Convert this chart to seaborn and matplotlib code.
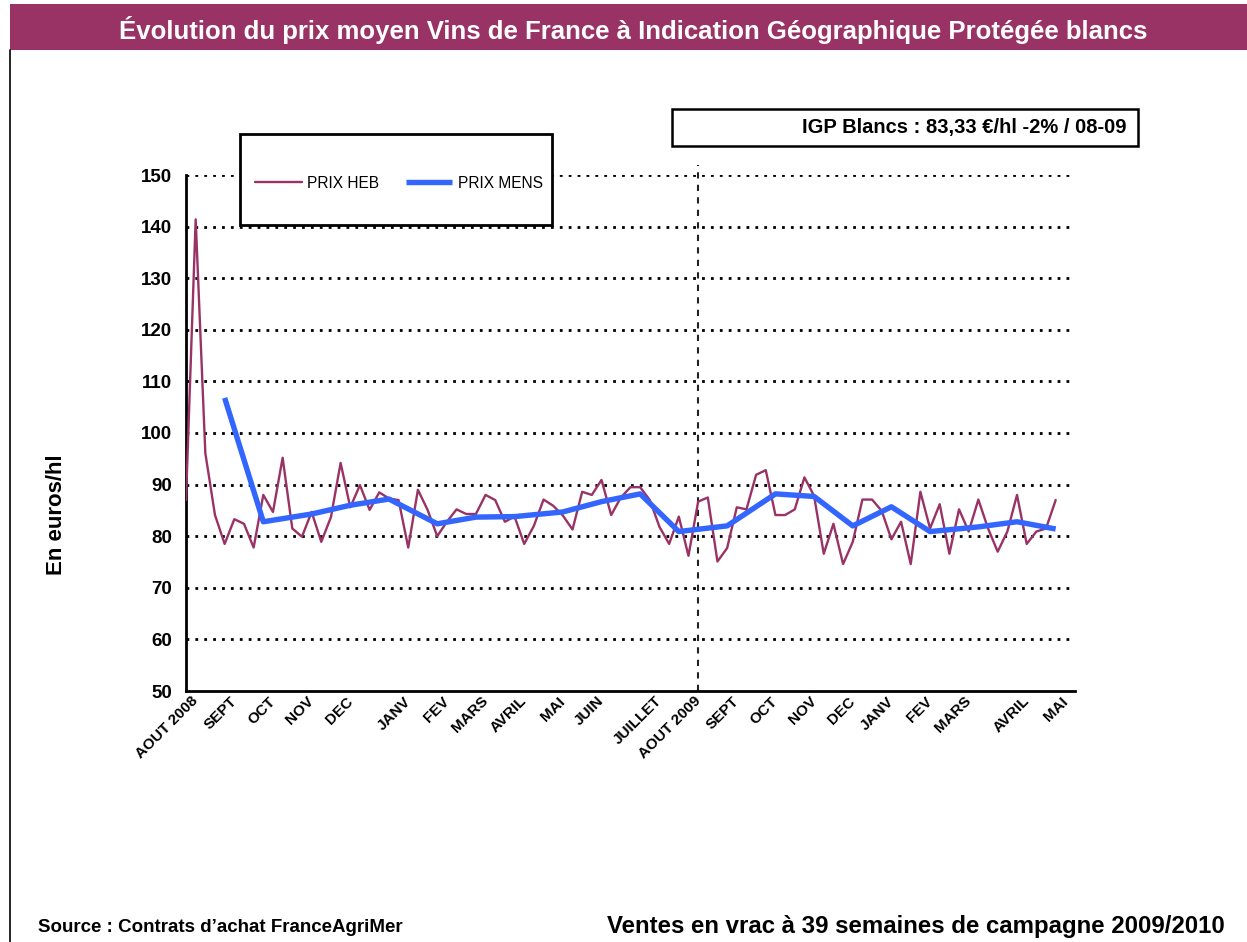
import numpy as np
import pandas as pd
import seaborn as sns
import matplotlib
matplotlib.use("Agg")
import matplotlib.pyplot as plt
import matplotlib.transforms as mtransforms
from matplotlib.patches import Rectangle
from matplotlib.lines import Line2D

# ---------------- data ----------------
week_idx = list(range(91))
prix_heb = [87.0, 141.4, 96.1, 84.1, 78.5, 83.3, 82.4, 77.8, 88.0, 84.7,
            95.2, 81.5, 79.9, 84.7, 78.9, 83.7, 94.2, 85.6, 89.9, 85.1,
            88.5, 87.3, 87.0, 77.8, 89.0, 85.1, 80.0, 82.8, 85.2, 84.3,
            84.3, 88.0, 87.0, 82.8, 83.8, 78.5, 82.0, 87.1, 85.9, 84.0,
            81.3, 88.6, 88.0, 90.9, 84.1, 87.5, 89.5, 89.5, 87.0, 81.8,
            78.5, 83.8, 76.2, 86.7, 87.5, 75.1, 77.7, 85.6, 85.2, 91.9,
            92.8, 84.1, 84.1, 85.2, 91.4, 87.8, 76.6, 82.4, 74.6, 78.9,
            87.1, 87.1, 84.9, 79.4, 82.8, 74.6, 88.6, 81.5, 86.2, 76.6,
            85.2, 80.9, 87.1, 81.5, 77.0, 80.9, 88.0, 78.5, 80.9, 81.5,
            87.0]
month_idx = [4, 8, 13, 17, 21, 26, 30, 34, 39, 43, 47, 51, 56, 61, 65, 69, 73, 77, 82, 86, 90]
prix_mens = [106.8, 82.8, 84.3, 86.0, 87.2, 82.4, 83.7, 83.8, 84.7, 86.7, 88.2,
             80.9, 82.0, 88.2, 87.7, 82.0, 85.7, 80.9, 81.8, 82.8, 81.4]
label_idx = [0, 4, 8, 12, 16, 22, 26, 30, 34, 38, 42, 48, 52, 56, 60, 64, 68, 72, 76, 80, 86, 90]
label_txt = ["AOUT 2008", "SEPT", "OCT", "NOV", "DEC", "JANV", "FEV", "MARS", "AVRIL",
             "MAI", "JUIN", "JUILLET", "AOUT 2009", "SEPT", "OCT", "NOV", "DEC", "JANV",
             "FEV", "MARS", "AVRIL", "MAI"]
y_ticks = [50, 60, 70, 80, 90, 100, 110, 120, 130, 140, 150]
n_categories = 93
campaign_split = 53

title = "Évolution du prix moyen Vins de France à Indication Géographique Protégée blancs"
box_text = "IGP Blancs : 83,33 €/hl -2% / 08-09"
source_text = "Source : Contrats d’achat FranceAgriMer"
note_text = "Ventes en vrac à 39 semaines de campagne 2009/2010"

PURPLE = "#993366"
BLUE = "#3366FF"

# ---------------- figure ----------------
sns.set_theme(style="white")
plt.rcParams['font.family'] = ['Liberation Sans', 'DejaVu Sans']
plt.rcParams['text.color'] = 'black'
plt.rcParams['axes.labelcolor'] = 'black'
plt.rcParams['xtick.color'] = 'black'
plt.rcParams['ytick.color'] = 'black'

W, H = 1247, 942
fig = plt.figure(figsize=(W / 100, H / 100), dpi=100)
fig.patch.set_facecolor("white")


def fx(x):
    return x / W


def fy(y):
    return 1 - y / H


# title bar + frame
fig.patches.append(Rectangle((fx(10), fy(50)), fx(1247) - fx(10), fy(4) - fy(50),
                             transform=fig.transFigure, facecolor=PURPLE, edgecolor="none"))
fig.lines.append(Line2D([fx(10), fx(10)], [fy(50), 0], transform=fig.transFigure,
                        color="black", lw=1.2))
fig.text(fx(633), fy(30), title, color="white", fontsize=18.5, fontweight="bold",
         ha="center", va="center")

ax = fig.add_axes([fx(186), fy(691), fx(1075) - fx(186), fy(175) - fy(691)])

df_w = pd.DataFrame({"semaine": week_idx, "prix": prix_heb})
df_m = pd.DataFrame({"semaine": month_idx, "prix": prix_mens})
sns.lineplot(data=df_w, x="semaine", y="prix", ax=ax, color=PURPLE, lw=1.7,
             label="PRIX HEB", zorder=3)
sns.lineplot(data=df_m, x="semaine", y="prix", ax=ax, color=BLUE, lw=3.9,
             label="PRIX MENS", zorder=4, solid_capstyle="butt")

ax.set_xlim(0, n_categories - 1)
ax.set_ylim(50, 150)
ax.set_xlabel("")
ax.set_ylabel("En euros/hl", fontsize=16, fontweight="bold")
ax.yaxis.set_label_coords((67 - 186) / 889, (691 - 515) / 516)

# grid
for v in y_ticks[1:]:
    ax.axhline(v, color="black", lw=2.0, ls=(0, (1.0, 2.2)), zorder=1)
ax.axvline(campaign_split, ymin=0, ymax=1.02, color="#222222", lw=1.5,
           ls=(0, (3, 3)), zorder=2, clip_on=False)

# spines
for s in ["top", "right"]:
    ax.spines[s].set_visible(False)
for s in ["left", "bottom"]:
    ax.spines[s].set_color("black")
    ax.spines[s].set_linewidth(2)

# ticks
xt = list(range(n_categories))
xl = [""] * n_categories
for i, t in zip(label_idx, label_txt):
    xl[i] = t
ax.set_xticks(xt)
ax.set_xticklabels(xl, rotation=45, ha="right", rotation_mode="anchor",
                   fontsize=11, fontweight="bold")
ax.set_yticks(y_ticks)
ax.set_yticklabels([str(v) for v in y_ticks], fontsize=13.5, fontweight="bold")
ax.tick_params(axis="x", direction="inout", length=9, width=1.5, color="black", pad=2)
ax.tick_params(axis="y", direction="inout", length=12, width=1.5, color="black", pad=4)
shift = mtransforms.ScaledTranslation(5 / 100, 6 / 100, fig.dpi_scale_trans)
for lab in ax.get_xticklabels():
    lab.set_transform(lab.get_transform() + shift)

# legend (frame drawn as a figure rectangle)
handles, labels = ax.get_legend_handles_labels()
ax.get_legend().remove()
fig.patches.append(Rectangle((fx(240), fy(225)), fx(552) - fx(240), fy(134) - fy(225),
                             transform=fig.transFigure, facecolor="white",
                             edgecolor="black", lw=2, zorder=4))
leg = fig.legend(handles, labels, loc="center left", bbox_to_anchor=(fx(255), fy(183)),
                 bbox_transform=fig.transFigure, ncol=2, frameon=False, fontsize=11.2,
                 handlelength=3.0, columnspacing=1.7, handletextpad=0.35,
                 borderpad=0, borderaxespad=0)
leg.set_zorder(6)

# annotation box
fig.patches.append(Rectangle((fx(672), fy(146)), fx(1138) - fx(672), fy(109) - fy(146),
                             transform=fig.transFigure, facecolor="white",
                             edgecolor="black", lw=1.8))
fig.text(fx(1126), fy(128), box_text, fontsize=14.5, fontweight="bold",
         ha="right", va="center")

# bottom texts
fig.text(fx(38), fy(928), source_text, fontsize=13.5, fontweight="bold",
         ha="left", va="center")
fig.text(fx(1225), fy(926), note_text, fontsize=17.3, fontweight="bold",
         ha="right", va="center")

fig.savefig("out.png", dpi=100, facecolor="white")
